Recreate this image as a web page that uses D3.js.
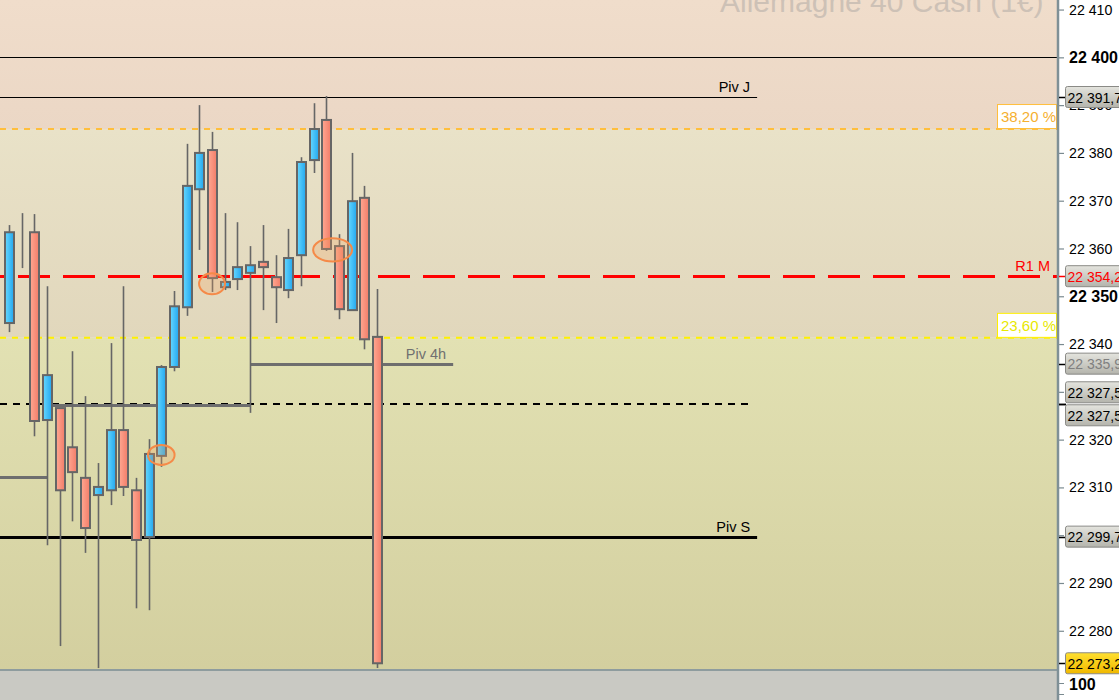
<!DOCTYPE html>
<html><head><meta charset="utf-8">
<script src="https://cdn.jsdelivr.net/npm/d3@7"></script>
<style>body{margin:0;overflow:hidden;background:#fff}svg{display:block}text{font-family:Arial,"Liberation Sans",sans-serif}</style>
</head><body><svg id="c" width="1119" height="700"></svg>
<script>
// ---- data ----
const barIndex = [0,1,2,3,4,5,6,7,8,9,10,11,12,13,14,15,16,17,18,19,20,21,22,23,24,25,26,27,28,29];
const open  = [22344.4,22363.0,22363.4,22324.1,22326.6,22318.4,22312.0,22308.4,22309.4,22322.0,22309.4,22299.6,22316.6,22335.2,22347.7,22372.4,22380.6,22351.9,22353.6,22354.9,22357.2,22354.0,22351.3,22358.6,22378.5,22386.9,22360.5,22347.1,22370.6,22341.5];
const high  = [22364.9,22367.4,22367.2,22352.1,22326.6,22338.5,22329.1,22315.1,22340.2,22352.1,22312.0,22320.1,22335.6,22351.1,22381.9,22390.0,22384.4,22367.4,22365.5,22360.5,22364.9,22358.6,22364.1,22379.1,22390.4,22391.9,22363.0,22380.0,22373.1,22351.5];
const low   = [22342.5,22355.9,22320.7,22297.9,22276.8,22302.9,22296.3,22272.2,22306.3,22308.2,22284.7,22284.3,22314.3,22334.3,22345.9,22359.7,22350.9,22351.3,22351.3,22325.6,22347.1,22344.4,22349.6,22352.1,22375.8,22359.5,22345.2,22347.1,22338.9,22272.2];
const close = [22363.4,22363.0,22323.9,22333.5,22309.4,22313.2,22301.5,22310.1,22322.0,22310.1,22299.0,22317.0,22335.2,22347.9,22373.1,22380.0,22353.8,22353.0,22356.1,22356.5,22356.1,22351.9,22358.0,22378.1,22385.0,22359.9,22347.3,22369.9,22341.0,22273.2];

const yTicks = [22280,22290,22300,22310,22320,22330,22340,22350,22360,22370,22380,22390,22400,22410];
const yTickLabels = ["22 280","22 290","22 300","22 310","22 320","22 330","22 340","22 350","22 360","22 370","22 380","22 390","22 400","22 410"];

const fiboValues = [22385.0, 22341.3];
const fiboLabels = ["38,20 %", "23,60 %"];

const levelNames  = ["", "Piv J", "R1 M", "Piv 4h", "", "", "", "Piv S"];
const levelValues = [22400.0, 22391.7, 22354.2, 22335.9, 22327.5, 22327.3, 22312.2, 22299.7];
const levelStart  = [null, null, null, 19.0, null, 3.07, null, null];
const levelEnd    = [null, 58.95, null, 35.0, 58.55, 19.0, 3.07, 58.95];

const tagValues = [22391.7, 22354.2, 22335.9, 22327.5, 22327.5, 22299.7, 22273.2];
const tagLabels = ["22 391,7","22 354,2","22 335,9","22 327,5","22 327,5","22 299,7","22 273,2"];

const markBar   = [16.0, 25.5, 12.0];
const markPrice = [22352.6, 22359.7, 22316.8];

const title = "Allemagne 40 Cash (1€)";

// ---- layout ----
const plotR = 1057, plotB = 669, W = 1119, H = 700;
const svg = d3.select("#c");
const x = d3.scaleLinear().domain([-0.709, 82.58]).range([0, plotR]);
const y = d3.scaleLinear().domain([22272, 22412]).range([plotB, 0]);

const defs = svg.append("defs");
function vgrad(id, c0, c1){ const g=defs.append("linearGradient").attr("id",id).attr("x1",0).attr("y1",0).attr("x2",0).attr("y2",1); g.append("stop").attr("offset","0%").attr("stop-color",c0); g.append("stop").attr("offset","100%").attr("stop-color",c1); }
function hgrad(id, c0, c1){ const g=defs.append("linearGradient").attr("id",id).attr("x1",0).attr("y1",0).attr("x2",1).attr("y2",0); g.append("stop").attr("offset","0%").attr("stop-color",c0); g.append("stop").attr("offset","100%").attr("stop-color",c1); }
vgrad("z0","#F0DDCB","#EBD7C5");
vgrad("z1","#E9E2C8","#E1D7BC");
vgrad("z2","#E2E1B3","#D3CF9F");
hgrad("bull","#66D8FF","#22A6EE");
hgrad("bear","#FFA892","#F27C68");
vgrad("tag","#E4E4DE","#B4B4AC");
vgrad("tagY","#FFE030","#F0B800");
defs.append("clipPath").attr("id","clip").append("rect").attr("x",0).attr("y",0).attr("width",plotR).attr("height",plotB);

// background zones
const zoneEdges = [y.domain()[1], fiboValues[0], fiboValues[1], y.domain()[0]];
const plot = svg.append("g").attr("clip-path","url(#clip)");
plot.selectAll("rect.zone").data([0,1,2]).join("rect").attr("class","zone")
  .attr("x",0).attr("width",plotR)
  .attr("y",i=>y(zoneEdges[i])).attr("height",i=>y(zoneEdges[i+1])-y(zoneEdges[i]))
  .attr("fill",i=>`url(#z${i})`);

// title
plot.append("text").attr("x",720).attr("y",12).attr("font-size",30).attr("fill","#CDC1B6").text(title);

// fibo lines
const fiboColor = ["#FFBE3C","#FFF000"];
plot.selectAll("line.fibo").data([0,1]).join("line").attr("class","fibo")
  .attr("x1",0).attr("x2",plotR).attr("y1",i=>y(fiboValues[i])).attr("y2",i=>y(fiboValues[i]))
  .attr("stroke",i=>fiboColor[i]).attr("stroke-width",2).attr("stroke-dasharray","6,6");

// levels
const lvlStyle = [
  {c:"#000",w:1,d:null},{c:"#000",w:1,d:null},{c:"#FF0000",w:3,d:"32,13",o:27},{c:"#6E6E6E",w:3,d:null},
  {c:"#000",w:2,d:"7,6"},{c:"#6E6E6E",w:3,d:null},{c:"#6E6E6E",w:3,d:null},{c:"#000",w:3,d:null}];
const lx1 = i => levelStart[i]==null ? 0 : x(levelStart[i]);
const lx2 = i => levelEnd[i]==null ? plotR : x(levelEnd[i]);
plot.selectAll("line.lvl").data(d3.range(levelValues.length)).join("line").attr("class","lvl")
  .attr("x1",lx1).attr("x2",lx2)
  .attr("y1",i=>Math.round(y(levelValues[i]))+(lvlStyle[i].w%2?0.5:0)).attr("y2",i=>Math.round(y(levelValues[i]))+(lvlStyle[i].w%2?0.5:0))
  .attr("stroke",i=>lvlStyle[i].c).attr("stroke-width",i=>lvlStyle[i].w)
  .attr("stroke-dasharray",i=>lvlStyle[i].d).attr("stroke-dashoffset",i=>lvlStyle[i].o||0);

// level labels
const lblColor = ["#000","#000","#FF0000","#707070","#000","#000","#000","#000"];
plot.selectAll("text.lvl").data(d3.range(levelValues.length).filter(i=>levelNames[i])).join("text").attr("class","lvl")
  .attr("x",i=> levelNames[i]==="R1 M" ? 1050 : lx2(i)-7)
  .attr("y",i=>y(levelValues[i])-5)
  .attr("text-anchor","end").attr("font-size",14.5).attr("fill",i=>lblColor[i]).text(i=>levelNames[i]);

// candles
const cg = plot.append("g");
cg.selectAll("line.wick").data(barIndex).join("line").attr("class","wick")
  .attr("x1",i=>Math.round(x(i))+0.5).attr("x2",i=>Math.round(x(i))+0.5)
  .attr("y1",i=>y(high[i])).attr("y2",i=>y(low[i]))
  .attr("stroke","#666").attr("stroke-width",1.6);
cg.selectAll("rect.body").data(barIndex).join("rect").attr("class","body")
  .attr("x",i=>Math.round(x(i))-4).attr("width",9)
  .attr("y",i=>y(Math.max(open[i],close[i])))
  .attr("height",i=>Math.abs(y(open[i])-y(close[i])))
  .attr("fill",i=>close[i]>=open[i]?"url(#bull)":"url(#bear)")
  .attr("stroke","#666").attr("stroke-width",2);

// highlight ellipses
const mrx=[13,19.5,13.3], mry=[10.5,11.7,10];
plot.selectAll("ellipse").data([0,1,2]).join("ellipse")
  .attr("cx",i=>x(markBar[i])).attr("cy",i=>y(markPrice[i])).attr("rx",i=>mrx[i]).attr("ry",i=>mry[i])
  .attr("fill","rgba(245,160,90,0.25)").attr("stroke","#F58A48").attr("stroke-width",2);

// fibo label boxes
const fg = svg.append("g");
const fiboText = ["#F5B030","#E8E800"];
fiboValues.forEach((v,i)=>{
  const yy = y(v);
  fg.append("rect").attr("x",997.5).attr("y",yy-24.5).attr("width",59).attr("height",24).attr("fill","#fff").attr("stroke",fiboColor[i]).attr("stroke-width",1);
  fg.append("text").attr("x",1001).attr("y",yy-7).attr("font-size",15).attr("fill",fiboText[i]).text(fiboLabels[i]);
});

// bottom panel
svg.append("rect").attr("x",0).attr("y",plotB).attr("width",plotR).attr("height",H-plotB).attr("fill","#C9C9C3");
svg.append("line").attr("x1",0).attr("x2",plotR).attr("y1",plotB+1).attr("y2",plotB+1).attr("stroke","#8E9C9E").attr("stroke-width",2);

// right axis
svg.append("rect").attr("x",plotR).attr("y",0).attr("width",W-plotR).attr("height",H).attr("fill","#fff");
const axisG = svg.append("g").attr("transform",`translate(${plotR+2},0)`);
const axis = d3.axisRight(y).tickValues(yTicks).tickSize(5).tickPadding(5)
  .tickFormat((d,i)=>yTickLabels[i]);
axisG.call(axis);
axisG.select(".domain").remove();
axisG.selectAll(".tick line").attr("stroke","#7A8A90").attr("stroke-width",1.2);
axisG.selectAll(".tick text").attr("fill","#000")
  .attr("font-family","Arial, 'Liberation Sans', sans-serif")
  .attr("font-weight",d=>d%50===0?"bold":"normal")
  .attr("font-size",d=>d%50===0?16:14.2);
svg.append("line").attr("x1",plotR+1).attr("x2",plotR+1).attr("y1",0).attr("y2",H).attr("stroke","#7F9096").attr("stroke-width",2.5);
// bottom indicator axis
svg.append("line").attr("x1",plotR+2).attr("x2",plotR+7).attr("y1",683.5).attr("y2",683.5).attr("stroke","#7A8A90");
svg.append("line").attr("x1",plotR+2).attr("x2",plotR+7).attr("y1",694.5).attr("y2",694.5).attr("stroke","#7A8A90");
svg.append("text").attr("x",1069).attr("y",690).attr("font-size",16).attr("font-weight","bold").text("100");

// price tags
let tagY = tagValues.map(v=>y(v));
for(let k=0;k<tagY.length;k++) for(let j=k+1;j<tagY.length;j++){
  const d = tagY[j]-tagY[k];
  if(Math.abs(d)<23){ const m=(tagY[j]+tagY[k])/2; tagY[k]=m-11.5; tagY[j]=m+11.5; }
}
const tagText = ["#000","#FF0000","#808080","#000","#000","#000","#000"];
const tg = svg.append("g");
tagValues.forEach((v,i)=>{
  tg.append("line").attr("x1",plotR+2).attr("x2",1066).attr("y1",Math.round(y(v))+0.5).attr("y2",Math.round(y(v))+0.5)
    .attr("stroke", i===1?"#FF0000":"#000").attr("stroke-width",1.5);
  tg.append("rect").attr("x",1065.5).attr("y",tagY[i]-10.5).attr("width",70).attr("height",21).attr("rx",2)
    .attr("fill", i===6?"url(#tagY)":"url(#tag)").attr("stroke","#8A8A86");
  tg.append("text").attr("x",1067.5).attr("y",tagY[i]+5.5).attr("font-size",14).attr("fill",tagText[i]).text(tagLabels[i]);
});
</script></body></html>
